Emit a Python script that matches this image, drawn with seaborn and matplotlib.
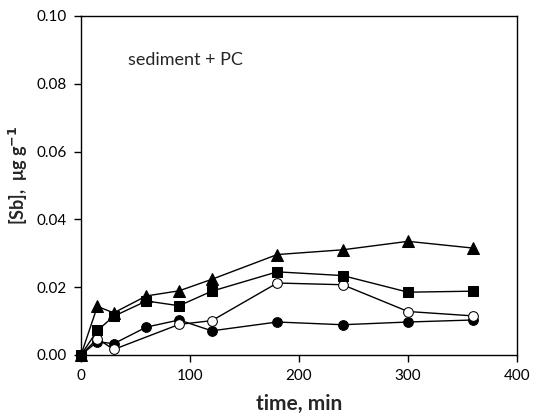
import pandas as pd
import numpy as np
import seaborn as sns
import matplotlib.pyplot as plt

time = [0, 15, 30, 60, 90, 120, 180, 240, 300, 360]
time_open = [0, 15, 30, 90, 120, 180, 240, 300, 360]

sb_triangle = [0.0, 0.0143, 0.0124, 0.0174, 0.0189, 0.0223, 0.0296, 0.0310, 0.0335, 0.0315]
sb_square = [0.0, 0.0072, 0.0114, 0.0159, 0.0145, 0.0188, 0.0245, 0.0234, 0.0185, 0.0188]
sb_open = [0.0, 0.0048, 0.0016, 0.0090, 0.0101, 0.0212, 0.0207, 0.0128, 0.0115]
sb_filled = [0.0, 0.0039, 0.0033, 0.0082, 0.0103, 0.0071, 0.0097, 0.0089, 0.0097, 0.0103]

sns.set_style("white")
plt.rcParams['font.family'] = ['Lato', 'DejaVu Sans']

fig = plt.figure(figsize=(5.33, 4.19), dpi=100)
ax = fig.add_axes([0.152, 0.153, 0.818, 0.809])

kw = dict(color='black', linewidth=1, markeredgecolor='black', ax=ax, clip_on=False)
sns.lineplot(x=time, y=sb_filled, marker='o', markersize=7, **kw)
sns.lineplot(x=time_open, y=sb_open, marker='o', markersize=7, markerfacecolor='white', **kw)
sns.lineplot(x=time, y=sb_triangle, marker='^', markersize=8, **kw)
sns.lineplot(x=time, y=sb_square, marker='s', markersize=7, **kw)

ax.set_xlim(0, 400)
ax.set_ylim(0, 0.10)
ax.set_xticks([0, 100, 200, 300, 400])
ax.set_yticks([0, 0.02, 0.04, 0.06, 0.08, 0.10])
ax.set_yticklabels(['0.00', '0.02', '0.04', '0.06', '0.08', '0.10'])
for s in ax.spines.values():
    s.set_color('black')
    s.set_linewidth(1)
ax.tick_params(axis='both', direction='out', length=5, width=1, colors='black',
               labelsize=11, bottom=True, left=True, top=False, right=False, pad=5)
ax.set_xlabel('time, min', fontsize=15, fontweight='bold', labelpad=8)
ax.set_ylabel(r'[Sb],  μg g$^{\mathbf{-1}}$', fontsize=13, fontweight='bold', labelpad=4)
ax.yaxis.set_label_coords(-0.118, 0.53)
ax.text(0.108, 0.87, 'sediment + PC', transform=ax.transAxes, fontsize=13, va='center')

fig.savefig('out.png', dpi=100)
